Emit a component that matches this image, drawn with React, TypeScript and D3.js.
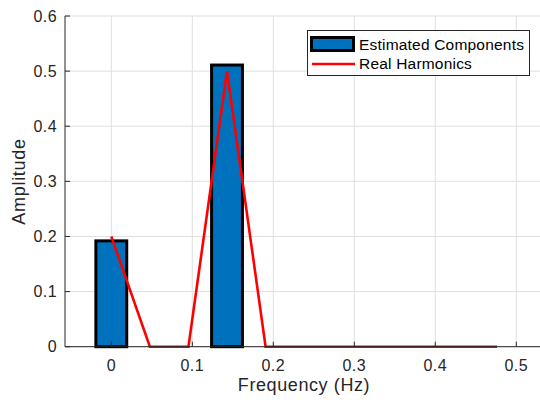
import React from "react";
import * as d3 from "d3";

const freqs = [0, 1, 2, 3, 4, 5, 6, 7, 8, 9, 10].map((k) => k / 21);
const estimated = [0.192, 0, 0, 0.511, 0, 0, 0, 0, 0, 0, 0];
const real = [0.2, 0, 0, 0.5, 0, 0, 0, 0, 0, 0, 0];
const xTicks = [0, 0.1, 0.2, 0.3, 0.4, 0.5];
const yTicks = [0, 0.1, 0.2, 0.3, 0.4, 0.5, 0.6];
const legendLabels = ["Estimated Components", "Real Harmonics"];

const W = 540;
const H = 403;
const left = 65;
const top = 16;
const bottom = 346.7;
const xMin = (left - 111.3) / 810;
const xMax = 0.535;

export default function App() {
  const x = d3.scaleLinear().domain([xMin, xMax]).range([left, left + (xMax - xMin) * 810]);
  const y = d3.scaleLinear().domain([0, 0.6]).range([bottom, top]);
  const barW = x(0.8 / 21) - x(0);
  const line = d3
    .line<number>()
    .x((_, i) => x(freqs[i]))
    .y((d) => y(d));
  const font = "'Liberation Sans', Arial, Helvetica, sans-serif";
  const axisColor = "#262626";
  const gridColor = "#dfdfdf";
  const right = x(xMax);
  return (
    <svg
      width={W}
      height={H}
      style={{ position: "absolute", left: 0, top: 0, background: "#fff" }}
      fontFamily={font}
    >
      <rect x={0} y={0} width={W} height={H} fill="#fff" />
      {xTicks.map((t) => (
        <line key={"gx" + t} x1={x(t)} x2={x(t)} y1={top} y2={bottom} stroke={gridColor} strokeWidth={1} />
      ))}
      {yTicks.map((t) => (
        <line key={"gy" + t} x1={left} x2={right} y1={y(t)} y2={y(t)} stroke={gridColor} strokeWidth={1} />
      ))}
      {estimated.map((v, i) => (
        <rect
          key={"b" + i}
          x={x(freqs[i]) - barW / 2}
          y={y(v)}
          width={barW}
          height={y(0) - y(v)}
          fill="#0072BD"
          stroke="#000"
          strokeWidth={3}
        />
      ))}
      <path d={line(real) || ""} fill="none" stroke="#ff0000" strokeWidth={2.6} strokeLinejoin="miter" />
      <line x1={left} x2={left} y1={top} y2={bottom} stroke={axisColor} strokeWidth={1} />
      <line x1={left} x2={right} y1={bottom} y2={bottom} stroke={axisColor} strokeWidth={1} />
      {yTicks.map((t) => (
        <g key={"ty" + t}>
          <line x1={left} x2={left + 5} y1={y(t)} y2={y(t)} stroke={axisColor} />
          <text x={left - 8} y={y(t)} dy="0.35em" textAnchor="end" fontSize={16} letterSpacing={0.4} fill={axisColor}>
            {t === 0 ? "0" : t.toFixed(1)}
          </text>
        </g>
      ))}
      {xTicks.map((t) => (
        <g key={"tx" + t}>
          <line x1={x(t)} x2={x(t)} y1={bottom} y2={bottom - 5} stroke={axisColor} />
          <text x={x(t)} y={bottom + 19} dy="0.35em" textAnchor="middle" fontSize={16} letterSpacing={0.4} fill={axisColor}>
            {t === 0 ? "0" : t.toFixed(1)}
          </text>
        </g>
      ))}
      <text x={304} y={391} textAnchor="middle" fontSize={18} letterSpacing={0.6} fill={axisColor}>
        Frequency (Hz)
      </text>
      <text
        transform={`translate(25, ${181.5}) rotate(-90)`}
        textAnchor="middle"
        fontSize={18}
        letterSpacing={0.7}
        fill={axisColor}
      >
        Amplitude
      </text>
      <rect x={307.5} y={30.5} width={222} height={45} fill="#fff" stroke={axisColor} strokeWidth={1} />
      <rect x={311.5} y={37.5} width={42} height={13} fill="#0072BD" stroke="#000" strokeWidth={3} />
      <line x1={312} x2={355} y1={64} y2={64} stroke="#ff0000" strokeWidth={2.6} />
      <text x={359} y={45} dy="0.35em" fontSize={15.5} letterSpacing={0.2} fill="#000">
        {legendLabels[0]}
      </text>
      <text x={359} y={64} dy="0.35em" fontSize={15.5} letterSpacing={0.2} fill="#000">
        {legendLabels[1]}
      </text>
    </svg>
  );
}
